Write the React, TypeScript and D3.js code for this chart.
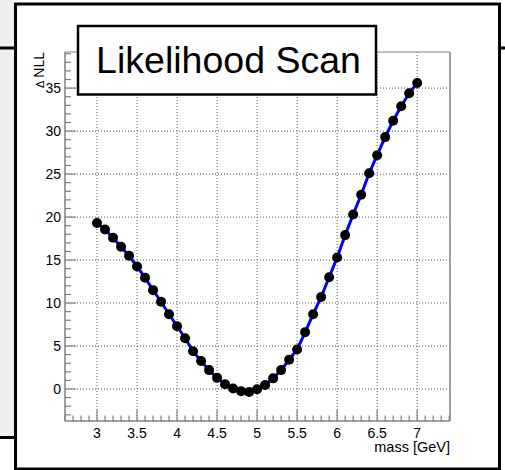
import React from "react";
import * as d3 from "d3";

const massValues = [3.0,3.1,3.2,3.3,3.4,3.5,3.6,3.7,3.8,3.9,4.0,4.1,4.2,4.3,4.4,4.5,4.6,4.7,4.8,4.9,5.0,5.1,5.2,5.3,5.4,5.5,5.6,5.7,5.8,5.9,6.0,6.1,6.2,6.3,6.4,6.5,6.6,6.7,6.8,6.9,7.0];
const nllValues = [19.3,18.55,17.6,16.55,15.5,14.25,12.95,11.5,10.15,8.7,7.3,5.9,4.4,3.25,2.2,1.3,0.55,0.05,-0.25,-0.35,-0.03,0.47,1.24,2.2,3.4,4.6,6.6,8.7,10.7,13.0,15.3,17.9,20.3,22.6,25.1,27.2,29.3,31.2,32.9,34.4,35.6];
const xTicks = [3, 3.5, 4, 4.5, 5, 5.5, 6, 6.5, 7];
const yTicks = [0, 5, 10, 15, 20, 25, 30, 35];
const title = "Likelihood Scan";
const xTitle = "mass [GeV]";
const yTitle = "NLL";
const yTitleSymbol = "Δ";

export default function App() {
  const W = 505, H = 470;
  const left = 65, right = 450, top = 52, bottom = 421;
  const x = d3.scaleLinear().domain([2.6, 7.41]).range([left, right]);
  const y = d3.scaleLinear().domain([-3.72, 39.2]).range([bottom, top]);
  const xMinor = d3.range(26, 75).map((v) => v / 10).filter((v) => x(v) >= left && x(v) <= right);
  const yMinor = d3.range(-3, 40).filter((v) => y(v) >= top && y(v) <= bottom);
  const line = d3.line<number>().x((_, i) => x(massValues[i])).y((d) => y(d));
  const font = "'Liberation Sans', Arial, sans-serif";
  const axisColor = "#808080";
  const gridColor = "#555";
  return (
    <svg width={W} height={H} style={{ position: "absolute", left: 0, top: 0, background: "#fff" }} fontFamily={font}>
      <rect x={0} y={0} width={14} height={437} fill="#efefef" />
      <rect x={0} y={46.5} width={15} height={3} fill="#000" />
      <rect x={0} y={436} width={15} height={3} fill="#000" />
      <rect x={500} y={46.5} width={5} height={3} fill="#000" />
      <rect x={15.5} y={4} width={484} height={465} fill="#fff" stroke="#000" strokeWidth={3} />
      {/* grid */}
      {xTicks.map((t) => (
        <line key={"gx" + t} x1={x(t)} x2={x(t)} y1={top} y2={bottom} stroke={gridColor} strokeWidth={1} strokeDasharray="1,2" />
      ))}
      {yTicks.map((t) => (
        <line key={"gy" + t} x1={left} x2={right} y1={y(t)} y2={y(t)} stroke={gridColor} strokeWidth={1} strokeDasharray="1,2" />
      ))}
      {/* frame */}
      <line x1={left} x2={right} y1={top} y2={top} stroke={axisColor} strokeWidth={1} />
      <line x1={right} x2={right} y1={top} y2={bottom} stroke={axisColor} strokeWidth={1.5} />
      <line x1={left} x2={right} y1={bottom} y2={bottom} stroke={axisColor} strokeWidth={1.5} />
      <line x1={left} x2={left} y1={top} y2={bottom} stroke={axisColor} strokeWidth={1.5} />
      {/* x ticks */}
      {xMinor.map((t) => {
        const major = xTicks.some((m) => Math.abs(m - t) < 1e-6);
        return <line key={"tx" + t} x1={x(t)} x2={x(t)} y1={bottom} y2={bottom - (major ? 11 : 5.5)} stroke={axisColor} strokeWidth={1.2} />;
      })}
      {yMinor.map((t) => {
        const major = t % 5 === 0;
        return <line key={"ty" + t} x1={left} x2={left + (major ? 11 : 6)} y1={y(t)} y2={y(t)} stroke={axisColor} strokeWidth={1.2} />;
      })}
      {xTicks.map((t) => (
        <text key={"lx" + t} x={x(t)} y={437.5} textAnchor="middle" fontSize={14} fill="#000">{t}</text>
      ))}
      {yTicks.map((t) => (
        <text key={"ly" + t} x={61} y={y(t) + 5} textAnchor="end" fontSize={14} fill="#000">{t}</text>
      ))}
      <text x={right} y={452} textAnchor="end" fontSize={14.5} fill="#000">{xTitle}</text>
      <text transform={`translate(44,52) rotate(-90)`} textAnchor="end" fill="#000">
        <tspan fontSize={11}>{yTitleSymbol}</tspan>
        <tspan fontSize={14} dx={3}>{yTitle}</tspan>
      </text>
      {/* data */}
      <path d={line(nllValues) || ""} fill="none" stroke="#0000ff" strokeWidth={3} />
      {nllValues.map((v, i) => (
        <circle key={"p" + i} cx={x(massValues[i])} cy={y(v)} r={5} fill="#000" />
      ))}
      {/* title box */}
      <rect x={78} y={26} width={298} height={68.5} fill="#fff" stroke="#000" strokeWidth={2.5} />
      <text x={228.5} y={73} textAnchor="middle" fontSize={37.5} fill="#000">{title}</text>
    </svg>
  );
}
